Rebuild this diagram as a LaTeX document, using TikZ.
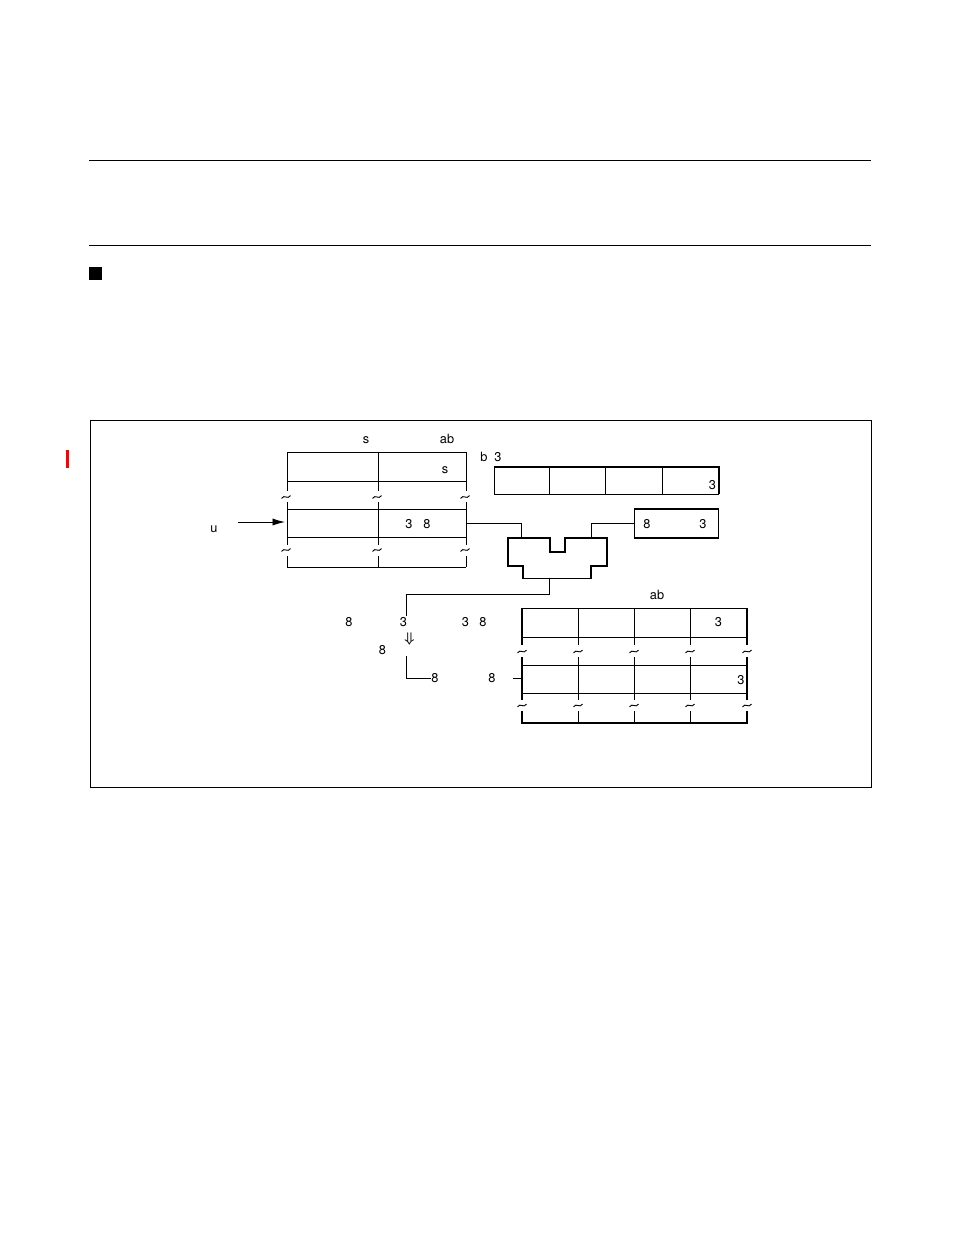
\documentclass[tikz,border=0pt]{standalone}
\usepackage{fontspec}
\setmainfont{TeX Gyre Heros}
\usepackage{tikz}
\usetikzlibrary{positioning}
\usetikzlibrary{arrows.meta}
\tikzstyle{arrow} = [line width=0.6pt,-{Latex[length=8pt,width=4.6pt]}]
\tikzstyle{wire} = [line width=0.6pt]
\tikzstyle{heavy} = [line width=1.25pt]
\tikzstyle{mid} = [line width=0.95pt]
\tikzstyle{lbl} = [inner sep=0pt,anchor=base,font=\fontsize{8.2}{10}\selectfont]
\tikzset{squiggle/.pic={\draw[line width=0.6pt] (-4.5,1.4) .. controls (-1.5,-3.2) and (1.5,3.2) .. (4.5,-1.4);}}

\begin{document}
\begin{tikzpicture}[x=0.6415pt,y=-0.6415pt]
				\useasboundingbox (0,0) rectangle (954,1235);
				%Page
				\draw[wire] (89,160) -- (871,160);
				\draw[wire] (89,245) -- (871,245);
				\fill (89,267) rectangle (102,280);
				\draw[red,line width=1.3pt] (67.5,450) -- (67.5,468);
				\draw[wire] (90,420) rectangle (871,787);
				
				%Upper memory block
				\foreach \x in {287,378,466} {
					\draw[wire] (\x,452) -- (\x,491);
					\pic at (\x-1,497) {squiggle};
					\draw[wire] (\x,502) -- (\x,545);
					\pic at (\x-1,550) {squiggle};
					\draw[wire] (\x,556) -- (\x,567);
				}
				\foreach \y in {452,481,509,537,567}
					\draw[wire] (287,\y) -- (466,\y);
				\coordinate (upin) at (285,522);
				\coordinate (upout) at (466,523);
				
				%Register
				\draw[wire] (494,494) -- (494,467);
				\draw[wire] (494,494) -- (719,494);
				\draw[heavy] (494,467) -- (719,467) -- (719,494);
				\foreach \x in {549,605,662}
					\draw[wire] (\x,467) -- (\x,494);
				
				%Small box
				\node[draw,mid,minimum width=84.5*0.6415pt,minimum height=29*0.6415pt,inner sep=0pt] (pair) at (676.5,523.5) {};
				
				%Plug
				\draw[mid] (508,538) -- (550,538) -- (550,552) -- (565,552) -- (565,538) -- (607,538)
					-- (607,566) -- (591,566) -- (591,578.5) -- (523,578.5) -- (523,566) -- (508,566) -- cycle;
				\draw[heavy] (607,538) -- (607,566);
				\coordinate (plugl) at (521,538);
				\coordinate (plugr) at (591,538);
				\coordinate (plugb) at (549,578.5);
				
				%Lower memory block
				\foreach \x in {522,578,634,690,747} {
					\draw[wire] (\x,608) -- (\x,645);
					\pic at (\x,651.5) {squiggle};
					\draw[wire] (\x,657) -- (\x,700);
					\pic at (\x,705.5) {squiggle};
					\draw[wire] (\x,711) -- (\x,723);
				}
				\foreach \y in {608,637,665,693}
					\draw[wire] (522,\y) -- (747,\y);
				\draw[heavy] (522,608) -- (522,645);
				\draw[heavy] (522,657) -- (522,700);
				\draw[heavy] (522,711) -- (522,723) -- (747,723) -- (747,711);
				\draw[heavy] (747,608) -- (747,645);
				\draw[heavy] (747,657) -- (747,700);
				\coordinate (lowin) at (521,678);
				\coordinate (lowtap) at (513,678);
				
				%Nodes
				\node[lbl] (upS) at (366,443) {s};
				\node[lbl] (upAB) at (447,443) {ab};
				\node[lbl] (cellS) at (445,473) {s};
				\node[lbl] (cellT) at (409,528.5) {3};
				\node[lbl] (cellE) at (427,528.5) {8};
				\node[lbl] (inU) at (214,532) {u};
				\coordinate (uarr) at (238,522);
				\node[lbl] (regB) at (484,461) {b};
				\node[lbl] (regT) at (498,461) {3};
				\node[lbl] (regCell) at (712.5,489.5) {3};
				\node[lbl] (pairE) at (647,528) {8};
				\node[lbl] (pairT) at (703,528) {3};
				\node[lbl] (resE) at (349,626.5) {8};
				\node[lbl] (resT) at (403.5,626.5) {3};
				\node[lbl] (resT2) at (465.5,626.5) {3};
				\node[lbl] (resE2) at (483,626.5) {8};
				\node[inner sep=0pt,font=\fontsize{9}{10}\selectfont\boldmath] (down) at (409.5,639) {$\Downarrow$};
				\node[lbl] (resE3) at (382.5,654.5) {8};
				\node[lbl] (resE4) at (435,682.5) {8};
				\node[lbl] (resE5) at (492,682.5) {8};
				\node[lbl] (lowAB) at (657,599) {ab};
				\node[lbl] (lowT) at (718.5,626.5) {3};
				\node[lbl] (lowT2) at (741,684) {3};
				
				%Lines
				\draw[arrow] (uarr) -- (upin);
				\draw[wire] (upout) -| (plugl);
				\draw[wire] (pair.west) -| (plugr);
				\draw[wire] (plugb) |- (406,594.5) -- (406,616);
				\draw[wire] (406,656) |- (resE4.west |- 0,678);
				\draw[wire] (lowtap) -- (lowin);
			\end{tikzpicture}
\end{document}
